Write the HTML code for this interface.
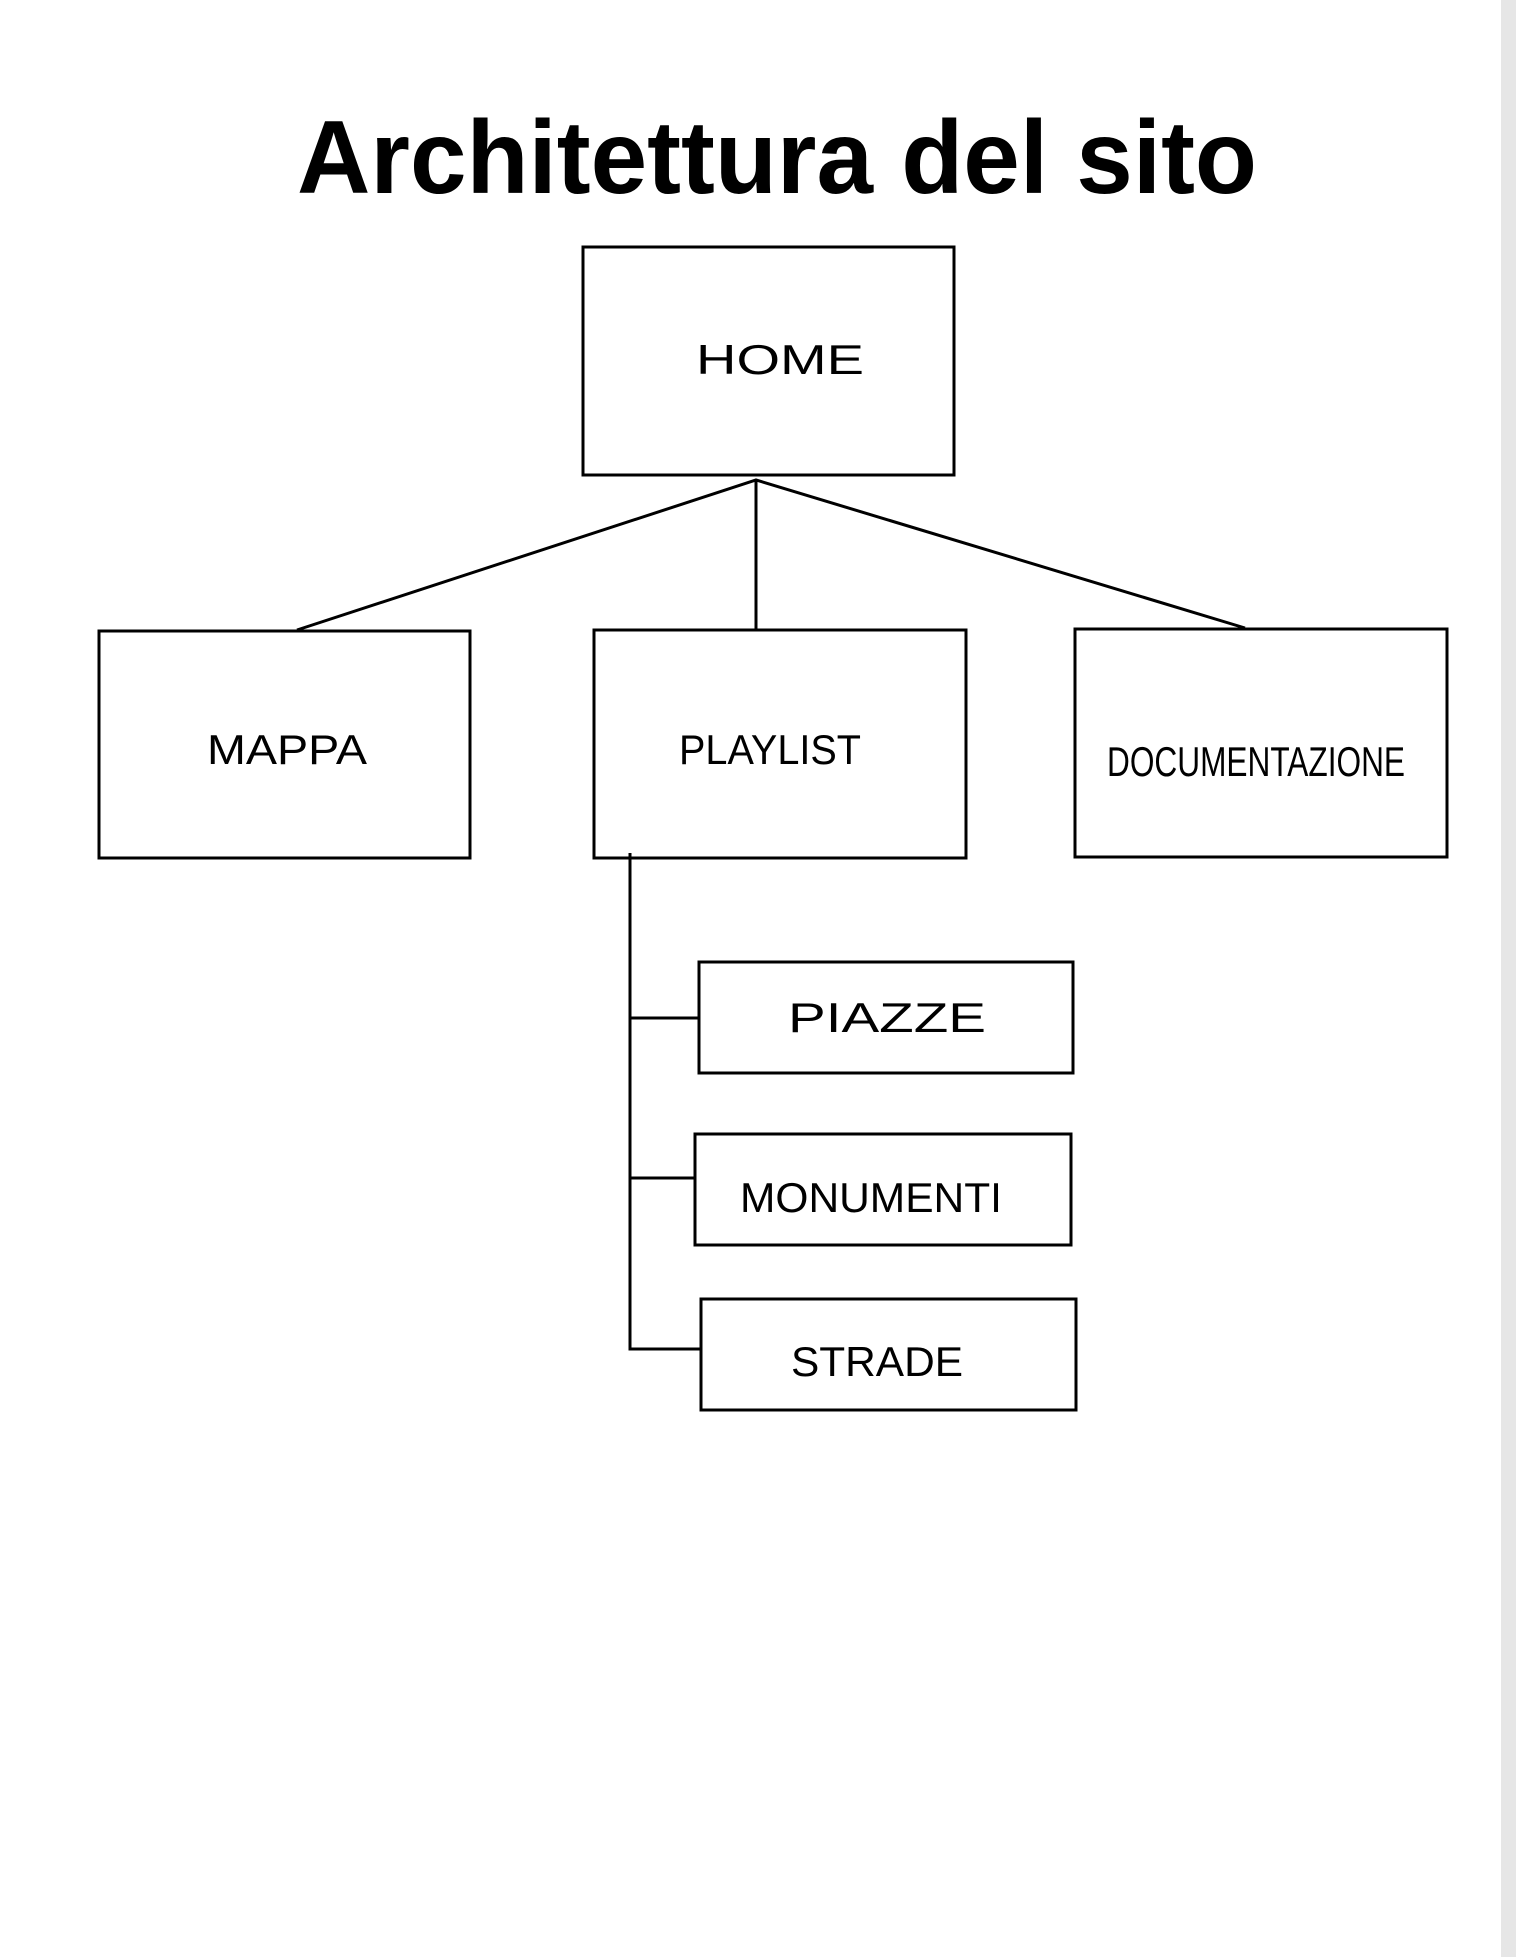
<!DOCTYPE html>
<html><head><meta charset="utf-8"><style>
html,body{margin:0;padding:0;background:#fff;}
svg{display:block;}
</style></head><body>
<svg width="1516" height="1957" xmlns="http://www.w3.org/2000/svg">
<rect x="0" y="0" width="1516" height="1957" fill="#fff"/>
<rect x="1501" y="0" width="15" height="1957" fill="#e6e6e6"/>
<text x="777" y="193" text-anchor="middle" font-family="Liberation Sans, sans-serif" font-weight="bold" font-size="104" textLength="960" lengthAdjust="spacingAndGlyphs">Architettura del sito</text>
<g fill="none" stroke="#000" stroke-width="3">
<rect x="583" y="247" width="371" height="228"/>
<rect x="99" y="631" width="371" height="227"/>
<rect x="594" y="630" width="372" height="228"/>
<rect x="1075" y="629" width="372" height="228"/>
<rect x="699" y="962" width="374" height="111"/>
<rect x="695" y="1134" width="376" height="111"/>
<rect x="701" y="1299" width="375" height="111"/>
<path d="M297 630 L756 480 L1245 628 M756 480 L756 629"/>
<path d="M630 853 L630 1349 L701 1349 M630 1018 L699 1018 M630 1178 L695 1178"/>
</g>
<g font-family="Liberation Sans, sans-serif" font-size="42" text-anchor="middle" fill="#000">
<text x="780" y="374" textLength="168" lengthAdjust="spacingAndGlyphs">HOME</text>
<text x="287" y="764" textLength="160" lengthAdjust="spacingAndGlyphs">MAPPA</text>
<text x="770" y="764" textLength="182" lengthAdjust="spacingAndGlyphs">PLAYLIST</text>
<text x="1256" y="776" textLength="298" lengthAdjust="spacingAndGlyphs">DOCUMENTAZIONE</text>
<text x="887" y="1032" textLength="198" lengthAdjust="spacingAndGlyphs">PIAZZE</text>
<text x="871" y="1212" textLength="262" lengthAdjust="spacingAndGlyphs">MONUMENTI</text>
<text x="877" y="1376" textLength="172" lengthAdjust="spacingAndGlyphs">STRADE</text>
</g>
</svg>
</body></html>
